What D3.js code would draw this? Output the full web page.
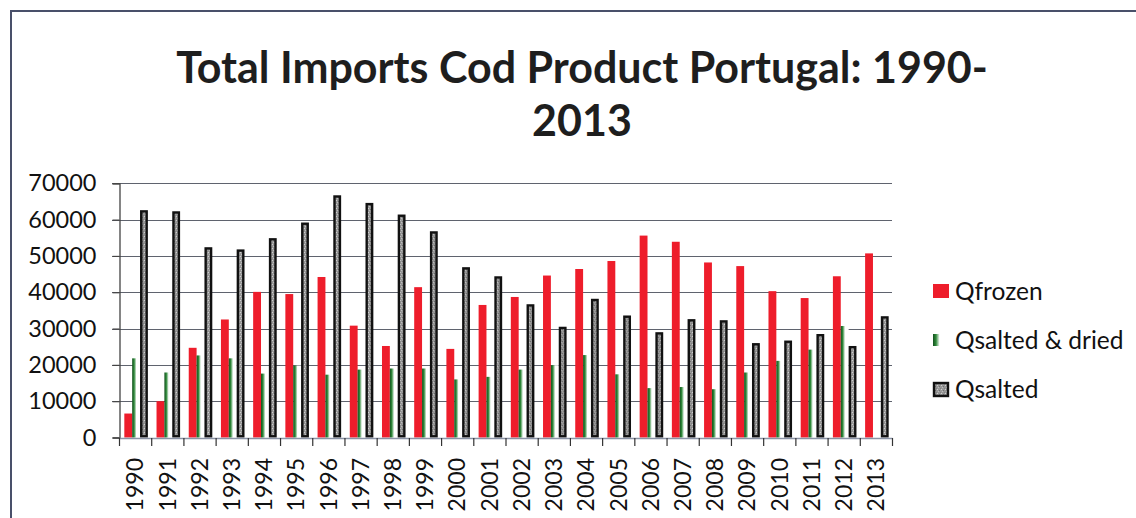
<!DOCTYPE html>
<html>
<head>
<meta charset="utf-8">
<script src="https://cdn.jsdelivr.net/npm/d3@7"></script>
<style>
  html, body { margin: 0; padding: 0; background: #fff; }
  svg { display: block; }
  text { font-family: Lato, "Open Sans", sans-serif; fill: #111; }
</style>
</head>
<body>
<svg id="chart" width="1136" height="518"></svg>
<script>
// Imports of cod products into Portugal, tonnes per year
const years = ["1990","1991","1992","1993","1994","1995","1996","1997","1998","1999","2000","2001",
               "2002","2003","2004","2005","2006","2007","2008","2009","2010","2011","2012","2013"];
const qFrozen = [6600, 10000, 24700, 32500, 40100, 39500, 44200, 30800, 25200, 41400, 24400, 36500,
                 38700, 44600, 46400, 48600, 55600, 53900, 48200, 47200, 40300, 38400, 44400, 50700];
const qSaltedDried = [21800, 17900, 22600, 21800, 17600, 19800, 17300, 18700, 19000, 19000, 16000, 16700,
                      18700, 19900, 22700, 17400, 13600, 13900, 13300, 17900, 21100, 24200, 30700, 0];
const qSalted = [62600, 62300, 52400, 51800, 54900, 59200, 66700, 64600, 61400, 56800, 46900, 44400,
                 36700, 30500, 38200, 33600, 29000, 32600, 32300, 26000, 26700, 28500, 25200, 33400];
const seriesNames = ["Qfrozen", "Qsalted & dried", "Qsalted"];
const yTicks = [0, 10000, 20000, 30000, 40000, 50000, 60000, 70000];
const titleLines = ["Total Imports Cod Product Portugal: 1990-", "2013"];

const seriesValues = [qFrozen, qSaltedDried, qSalted];
const svg = d3.select("#chart");

// fills
const defs = svg.append("defs");
const grad = defs.append("linearGradient").attr("id", "greenFade")
  .attr("x1", "0%").attr("x2", "100%").attr("y1", "0%").attr("y2", "0%");
grad.append("stop").attr("offset", "0%").attr("stop-color", "#14501e");
grad.append("stop").attr("offset", "25%").attr("stop-color", "#2f8a3a");
grad.append("stop").attr("offset", "55%").attr("stop-color", "#ffffff");
grad.append("stop").attr("offset", "100%").attr("stop-color", "#ffffff");

const pat = defs.append("pattern").attr("id", "grayStipple")
  .attr("width", 4).attr("height", 4).attr("patternUnits", "userSpaceOnUse");
pat.append("rect").attr("width", 4).attr("height", 4).attr("fill", "#979797");
pat.append("rect").attr("x", 0).attr("y", 0).attr("width", 1).attr("height", 1).attr("fill", "#cfcfcf");
pat.append("rect").attr("x", 2).attr("y", 1).attr("width", 1).attr("height", 1).attr("fill", "#6e6e6e");
pat.append("rect").attr("x", 1).attr("y", 2).attr("width", 1).attr("height", 1).attr("fill", "#bdbdbd");
pat.append("rect").attr("x", 3).attr("y", 3).attr("width", 1).attr("height", 1).attr("fill", "#808080");

const styles = [
  { fill: "#ee1d2b", stroke: "none", sw: 0 },
  { fill: "url(#greenFade)", stroke: "none", sw: 0 },
  { fill: "url(#grayStipple)", stroke: "#111", sw: 2.4 }
];

// chart frame
svg.append("path").attr("d", "M11,518 L11,11 L1136,11")
  .attr("fill", "none").attr("stroke", "#49506a").attr("stroke-width", 2);

// title
const title = svg.append("g");
titleLines.forEach((t, i) => {
  title.append("text").attr("x", 582).attr("y", 83 + i * 53)
    .attr("text-anchor", "middle").attr("font-weight", 700)
    .attr("font-size", 43).style("fill", "#1e1e1e").text(t);
});

// scales
const x = d3.scaleBand().domain(years).range([119, 892]).paddingInner(0).paddingOuter(0);
const xs = d3.scaleBand().domain(seriesNames).range([0, x.bandwidth()]).paddingInner(0).paddingOuter(0.55);
const y = d3.scaleLinear().domain([0, 70000]).range([437.5, 183.3]);

// gridlines
svg.append("g").selectAll("line").data(yTicks.filter(v => v > 0)).join("line")
  .attr("x1", 112).attr("x2", 892)
  .attr("y1", d => Math.round(y(d)) + 0.5).attr("y2", d => Math.round(y(d)) + 0.5)
  .attr("stroke", "#5f636e").attr("stroke-width", 1.2);

// y axis
const yAxis = svg.append("g").attr("transform", "translate(119.5,0)")
  .call(d3.axisLeft(y).tickValues(yTicks).tickFormat(d3.format("d")).tickSize(7).tickPadding(16));
yAxis.select(".domain").attr("stroke", "#444").attr("stroke-width", 1.3);
yAxis.selectAll(".tick line").attr("stroke", "#444").attr("stroke-width", 1.2);
yAxis.selectAll(".tick text").attr("font-size", 23.5).style("font-family", "Lato, sans-serif").style("fill", "#111");

// bars
const groups = svg.append("g").selectAll("g").data(seriesNames).join("g");
groups.each(function(name, si) {
  const st = styles[si];
  d3.select(this).selectAll("rect").data(seriesValues[si].map((v, i) => ({ year: years[i], v })))
    .join("rect")
    .attr("x", d => x(d.year) + xs(name) + st.sw / 2 + 1)
    .attr("y", d => y(d.v) + st.sw / 2)
    .attr("width", xs.bandwidth() - st.sw)
    .attr("height", d => Math.max(0, y(0) - y(d.v) - st.sw))
    .attr("fill", st.fill)
    .attr("stroke", st.stroke)
    .attr("stroke-width", st.sw);
});

// x axis
const xAxis = svg.append("g").attr("transform", "translate(0,438)")
  .call(d3.axisBottom(x).tickSize(0).tickPadding(0));
xAxis.select(".domain").attr("stroke", "#8a93a6").attr("stroke-width", 1.6);
xAxis.selectAll(".tick text")
  .attr("font-size", 23).style("font-family", "Lato, sans-serif").style("fill", "#111")
  .attr("text-anchor", "end")
  .attr("transform", "translate(0,20) rotate(-90)")
  .attr("x", 0).attr("y", 0).attr("dy", "0.36em");
// category boundary ticks
svg.append("g").selectAll("line").data(years.concat(["end"])).join("line")
  .attr("x1", (d, i) => 119 + i * x.step() + 0.5).attr("x2", (d, i) => 119 + i * x.step() + 0.5)
  .attr("y1", 438).attr("y2", 446)
  .attr("stroke", "#333").attr("stroke-width", 1.2);

// legend
const legend = svg.append("g");
const legendY = [291, 340, 389];
seriesNames.forEach((name, i) => {
  const g = legend.append("g").attr("transform", `translate(933,${legendY[i]})`);
  if (i === 1) {
    g.append("rect").attr("x", 0).attr("y", -6).attr("width", 12).attr("height", 12).attr("fill", "url(#greenFade)");
  } else {
    g.append("rect").attr("x", i === 2 ? 1 : 0).attr("y", i === 2 ? -6 : -7)
      .attr("width", i === 2 ? 14 : 16).attr("height", i === 2 ? 13 : 14)
      .attr("fill", styles[i].fill).attr("stroke", styles[i].stroke).attr("stroke-width", styles[i].sw);
  }
  g.append("text").attr("x", 22).attr("y", 0).attr("dy", "0.35em")
    .attr("font-size", 24.5).text(name);
});
</script>
</body>
</html>
